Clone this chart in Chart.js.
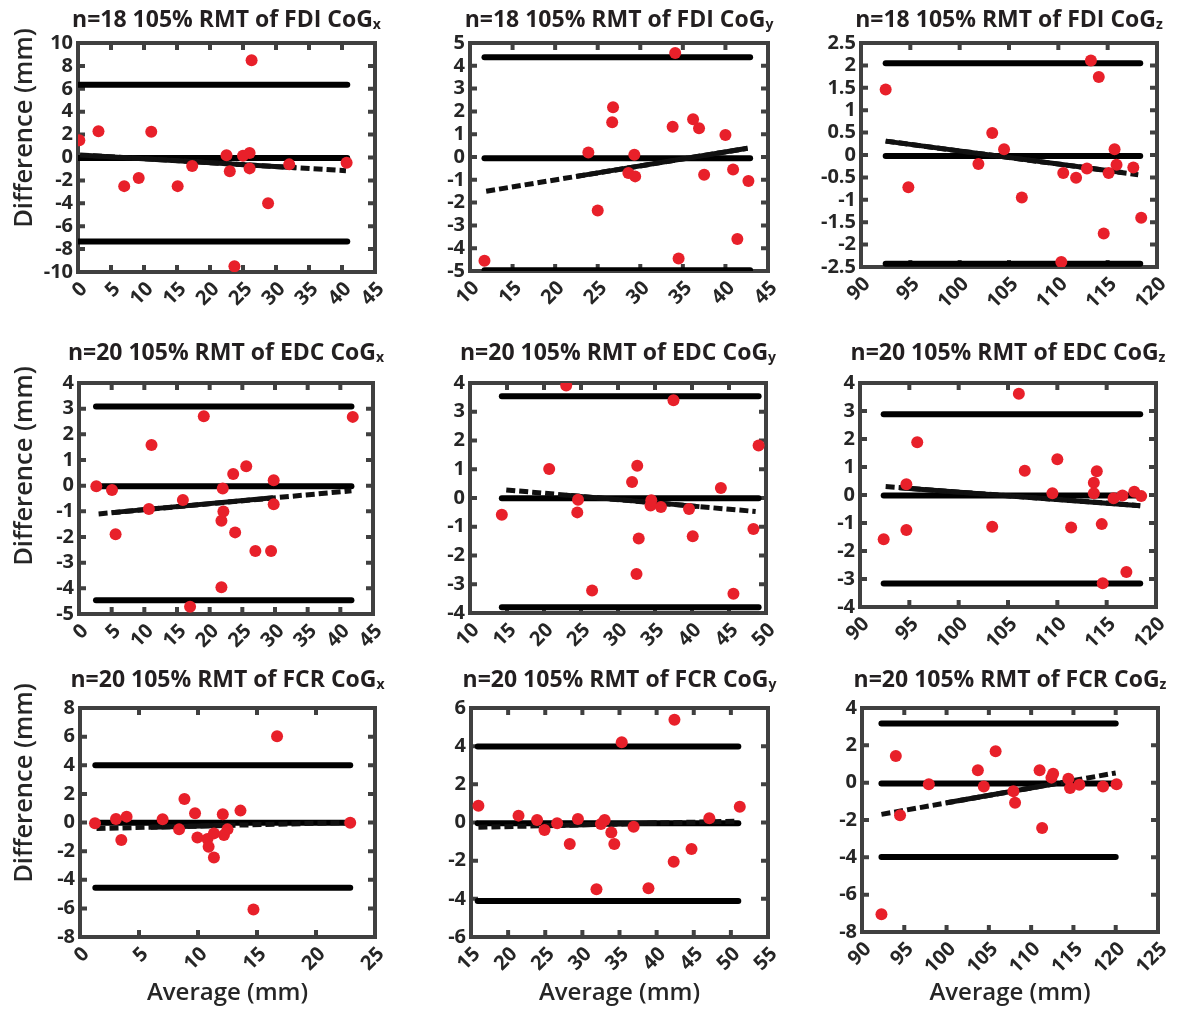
<!DOCTYPE html>
<html>
<head>
<meta charset="utf-8">
<script src="https://cdn.jsdelivr.net/npm/chart.js@4.4.1/dist/chart.umd.min.js"></script>
<style>
  body { margin: 0; background: #fff; }
  #wrap { position: relative; width: 1179px; height: 1010px; overflow: hidden; font-family: "Open Sans", sans-serif; }
  #wrap canvas { position: absolute; }
  .ttl { position: absolute; font-weight: 700; font-size: 23px; line-height: 26px; color: #231f20; white-space: nowrap; transform: translateX(-50%); }
  .ttl span { font-size: 14px; position: relative; top: 2px; }
</style>
</head>
<body>
<div id="wrap"></div>
<script>
// panel titles (subscript kept apart)
const titles = [
  'n=18 105% RMT of FDI CoG', 'n=18 105% RMT of FDI CoG', 'n=18 105% RMT of FDI CoG',
  'n=20 105% RMT of EDC CoG', 'n=20 105% RMT of EDC CoG', 'n=20 105% RMT of EDC CoG',
  'n=20 105% RMT of FCR CoG', 'n=20 105% RMT of FCR CoG', 'n=20 105% RMT of FCR CoG'
]
const subs = ['x', 'y', 'z', 'x', 'y', 'z', 'x', 'y', 'z']

// tick labels
const xTicks = [
  [0, 5, 10, 15, 20, 25, 30, 35, 40, 45],
  [10, 15, 20, 25, 30, 35, 40, 45],
  [90, 95, 100, 105, 110, 115, 120],
  [0, 5, 10, 15, 20, 25, 30, 35, 40, 45],
  [10, 15, 20, 25, 30, 35, 40, 45, 50],
  [90, 95, 100, 105, 110, 115, 120],
  [0, 5, 10, 15, 20, 25],
  [15, 20, 25, 30, 35, 40, 45, 50, 55],
  [90, 95, 100, 105, 110, 115, 120, 125]
]
const yTicks = [
  [-10, -8, -6, -4, -2, 0, 2, 4, 6, 8, 10],
  [-5, -4, -3, -2, -1, 0, 1, 2, 3, 4, 5],
  [-2.5, -2, -1.5, -1, -0.5, 0, 0.5, 1, 1.5, 2, 2.5],
  [-5, -4, -3, -2, -1, 0, 1, 2, 3, 4],
  [-4, -3, -2, -1, 0, 1, 2, 3, 4],
  [-4, -3, -2, -1, 0, 1, 2, 3, 4],
  [-8, -6, -4, -2, 0, 2, 4, 6, 8],
  [-6, -4, -2, 0, 2, 4, 6],
  [-8, -6, -4, -2, 0, 2, 4]
]

// averages and differences (mm)
const fdiXAvg = [0.2, 3.1, 7.0, 9.2, 11.1, 15.1, 17.3, 22.5, 23.0, 23.7, 25.0, 26.0, 26.0, 26.3, 28.8, 32.0, 40.7]
const fdiXDiff = [1.5, 2.3, -2.5, -1.8, 2.25, -2.5, -0.75, 0.2, -1.2, -9.5, 0.15, 0.4, -0.95, 8.5, -4.0, -0.6, -0.45]
const fdiYAvg = [11.7, 23.9, 25.0, 26.7, 26.8, 28.6, 29.3, 29.4, 33.8, 34.1, 34.5, 36.2, 36.9, 37.5, 40.0, 40.9, 41.4, 42.7]
const fdiYDiff = [-4.55, 0.2, -2.35, 1.52, 2.18, -0.7, 0.1, -0.85, 1.33, 4.56, -4.45, 1.66, 1.26, -0.78, 0.97, -0.55, -3.6, -1.05]
const fdiZAvg = [92.5, 94.8, 101.9, 103.3, 104.5, 106.3, 110.3, 110.5, 111.8, 112.9, 113.3, 114.1, 114.6, 115.1, 115.7, 115.9, 117.6, 118.4]
const fdiZDiff = [1.46, -0.72, -0.2, 0.49, 0.13, -0.95, -2.39, -0.4, -0.51, -0.3, 2.11, 1.74, -1.75, -0.4, 0.13, -0.22, -0.28, -1.4]
const edcXAvg = [2.65, 5.05, 5.6, 10.7, 11.1, 15.9, 17.0, 19.1, 22.0, 21.8, 22.1, 21.8, 23.6, 23.9, 25.6, 27.0, 29.4, 29.8, 29.8, 41.9]
const edcXDiff = [-0.02, -0.17, -1.89, -0.91, 1.58, -0.56, -4.72, 2.7, -0.11, -1.37, -1.01, -3.96, 0.45, -1.82, 0.76, -2.55, -2.55, 0.21, -0.72, 2.68]
const edcYAvg = [14.3, 20.7, 23.0, 24.5, 24.6, 26.5, 31.9, 32.6, 32.5, 32.8, 34.4, 34.5, 35.8, 37.5, 39.6, 40.1, 43.9, 45.6, 48.3, 49.0]
const edcYDiff = [-0.58, 1.01, 3.91, -0.5, -0.06, -3.22, 0.56, 1.12, -2.64, -1.41, -0.26, -0.08, -0.31, 3.4, -0.38, -1.33, 0.35, -3.33, -1.08, 1.83]
const edcZAvg = [92.4, 94.7, 94.7, 95.8, 103.4, 106.1, 106.7, 109.5, 110.0, 111.4, 113.7, 113.7, 114.0, 114.5, 114.6, 115.7, 116.6, 117.0, 117.8, 118.5]
const edcZDiff = [-1.58, 0.38, -1.25, 1.88, -1.13, 3.62, 0.87, 0.06, 1.28, -1.16, 0.44, 0.06, 0.85, -1.04, -3.15, -0.12, -0.02, -2.75, 0.12, -0.04]
const fcrXAvg = [1.27, 3.05, 3.5, 3.95, 7.0, 8.4, 8.85, 9.75, 9.95, 10.8, 10.9, 11.35, 11.35, 12.1, 12.2, 12.5, 13.6, 14.7, 16.7, 22.9]
const fcrXDiff = [-0.06, 0.25, -1.23, 0.41, 0.22, -0.48, 1.65, 0.64, -1.04, -1.16, -1.69, -0.76, -2.44, 0.57, -0.88, -0.48, 0.83, -6.08, 6.02, -0.01]
const fcrYAvg = [16.0, 21.4, 23.9, 24.9, 26.6, 28.3, 29.4, 31.9, 32.5, 33.0, 33.9, 34.3, 35.3, 36.9, 38.9, 42.3, 42.4, 44.7, 47.1, 51.2]
const fcrYDiff = [0.88, 0.36, 0.13, -0.39, -0.04, -1.13, 0.18, -3.5, -0.08, 0.13, -0.52, -1.13, 4.21, -0.22, -3.44, -2.06, 5.39, -1.39, 0.22, 0.83]
const fcrZAvg = [92.3, 94.0, 94.5, 97.9, 103.7, 104.4, 105.8, 107.9, 108.1, 111.0, 111.3, 112.4, 112.6, 114.4, 114.6, 115.7, 118.5, 120.1]
const fcrZDiff = [-7.05, 1.43, -1.75, -0.09, 0.66, -0.2, 1.68, -0.46, -1.07, 0.66, -2.43, 0.27, 0.48, 0.21, -0.29, -0.11, -0.2, -0.09]

// limits of agreement and mean difference
const loaUpper = [6.35, 4.38, 2.05, 3.08, 3.54, 2.88, 4.0, 3.98, 3.17]
const loaMean = [-0.05, -0.05, -0.02, -0.02, -0.01, -0.02, -0.02, -0.04, -0.05]
const loaLower = [-7.33, -4.97, -2.43, -4.46, -3.8, -3.16, -4.56, -4.11, -3.98]
const loaFrom = [0.1, 11.7, 92.5, 2.6, 14.3, 92.4, 1.3, 15.9, 92.3]
const loaTo = [40.8, 42.9, 118.3, 41.7, 49.0, 118.4, 22.9, 51.0, 120.0]

// regression line ends [x0, y0, x1, y1]
const regDashed = [
  [0.3, 0.22, 40.6, -1.15], [11.9, -1.5, 42.6, 0.38], [92.5, 0.31, 118.1, -0.44],
  [3.0, -1.1, 41.7, -0.2], [14.9, 0.28, 48.6, -0.47], [92.6, 0.3, 118.4, -0.38],
  [1.4, -0.42, 22.9, 0.0], [16, -0.25, 50.9, 0.07], [92.3, -1.7, 120, 0.52]
]
const regSolid = [
  [1.5, 0.18, 33, -0.9], [22.5, -0.85, 42.6, 0.38], [92.5, 0.31, 116.5, -0.39],
  [5, -1.05, 29.7, -0.47], [23, 0.1, 41, -0.3], [94, 0.26, 118.4, -0.38],
  [6, -0.33, 13, -0.19], [25, -0.17, 40, -0.03], [100, -1.08, 113, -0.04]
]

const avgs = [fdiXAvg, fdiYAvg, fdiZAvg, edcXAvg, edcYAvg, edcZAvg, fcrXAvg, fcrYAvg, fcrZAvg]
const diffs = [fdiXDiff, fdiYDiff, fdiZDiff, edcXDiff, edcYDiff, edcZDiff, fcrXDiff, fcrYDiff, fcrZDiff]

// layout: plot box [left, top, right, bottom] in page pixels
const boxes = [
  [78, 43, 375, 272], [470, 43, 768, 271], [861, 43, 1157, 267],
  [79, 383, 373, 614], [470, 383, 766, 613], [860, 383, 1156, 607],
  [80, 708, 375, 937], [471, 708, 768, 937], [862, 708, 1158, 932]
]
const colX = [0, 393, 786]
const rowY = [0, 330, 660]
const rowH = [328, 325, 350]
const titleTop = [5, 338, 665]
const yTitleMid = [128, 136, 123] // centre of "Difference (mm)" inside each row canvas

const RED = '#e8202a'
const TXT = '#262626'
const FRAME = '#404040'
const FONT = '"Open Sans", sans-serif'

// box with inward ticks on all four sides
const framePlugin = {
  id: 'frame',
  beforeDatasetsDraw (chart) {
    const { ctx, chartArea: a, scales } = chart
    ctx.save()
    ctx.strokeStyle = FRAME
    ctx.lineWidth = 4
    ctx.strokeRect(a.left, a.top, a.right - a.left, a.bottom - a.top)
    ctx.beginPath()
    scales.x.ticks.forEach(t => {
      const px = scales.x.getPixelForValue(t.value)
      ctx.moveTo(px, a.top); ctx.lineTo(px, a.top + 7)
      ctx.moveTo(px, a.bottom); ctx.lineTo(px, a.bottom - 7)
    })
    scales.y.ticks.forEach(t => {
      const py = scales.y.getPixelForValue(t.value)
      ctx.moveTo(a.left, py); ctx.lineTo(a.left + 7, py)
      ctx.moveTo(a.right, py); ctx.lineTo(a.right - 7, py)
    })
    ctx.stroke()
    ctx.restore()
  }
}

// slanted x tick labels and the left axis title
const labelPlugin = {
  id: 'labels',
  afterDraw (chart, args, opts) {
    const { ctx, chartArea: a, scales } = chart
    ctx.save()
    ctx.fillStyle = TXT
    ctx.font = '700 20px ' + FONT
    ctx.textAlign = 'right'
    ctx.textBaseline = 'middle'
    scales.x.ticks.forEach(t => {
      const px = scales.x.getPixelForValue(t.value)
      ctx.save()
      ctx.translate(px + 6, a.bottom + 14)
      ctx.rotate(-Math.PI / 4)
      ctx.fillText(String(t.value), 0, 0)
      ctx.restore()
    })
    if (opts.yTitle) {
      ctx.font = '600 25.5px ' + FONT
      ctx.textAlign = 'center'
      ctx.translate(25, opts.yMid)
      ctx.rotate(-Math.PI / 2)
      ctx.fillText(opts.yTitle, 0, 0)
    }
    ctx.restore()
  }
}

function hline (i, y) {
  return {
    type: 'line', showLine: true, order: 2,
    data: [{ x: loaFrom[i], y: y }, { x: loaTo[i], y: y }],
    borderColor: '#000', borderWidth: 6, borderCapStyle: 'round', pointRadius: 0
  }
}

function segment (s, dashed) {
  return {
    type: 'line', showLine: true, order: 1,
    data: [{ x: s[0], y: s[1] }, { x: s[2], y: s[3] }],
    borderColor: '#111', borderWidth: 5, borderDash: dashed ? [9, 4] : [],
    borderCapStyle: 'butt', pointRadius: 0
  }
}

const wrap = document.getElementById('wrap')

for (let i = 0; i < 9; i++) {
  const col = i % 3
  const row = Math.floor(i / 3)
  const x0 = colX[col]
  const y0 = rowY[row]
  const W = 393
  const H = rowH[row]
  const [l, t, r, b] = boxes[i]

  const cv = document.createElement('canvas')
  cv.width = W
  cv.height = H
  cv.style.left = x0 + 'px'
  cv.style.top = y0 + 'px'
  cv.style.width = W + 'px'
  cv.style.height = H + 'px'
  wrap.appendChild(cv)

  const ttl = document.createElement('div')
  ttl.className = 'ttl'
  ttl.style.left = ((l + r) / 2) + 'px'
  ttl.style.top = titleTop[row] + 'px'
  ttl.innerHTML = titles[i] + '<span>' + subs[i] + '</span>'
  wrap.appendChild(ttl)

  const xt = xTicks[i]
  const yt = yTicks[i]
  const pts = avgs[i].map((v, k) => ({ x: v, y: diffs[i][k] }))

  new Chart(cv, {
    type: 'scatter',
    data: {
      datasets: [
        { data: pts, backgroundColor: RED, borderWidth: 0, pointRadius: 6, order: 0 },
        hline(i, loaUpper[i]),
        hline(i, loaMean[i]),
        hline(i, loaLower[i]),
        segment(regDashed[i], true),
        segment(regSolid[i], false)
      ]
    },
    options: {
      responsive: false,
      animation: false,
      events: [],
      layout: { padding: { top: t - y0, right: x0 + W - r, left: 0, bottom: 0 } },
      plugins: {
        legend: { display: false },
        tooltip: { enabled: false },
        labels: { yTitle: col === 0 ? 'Difference (mm)' : '', yMid: yTitleMid[row] }
      },
      scales: {
        x: {
          type: 'linear',
          min: xt[0],
          max: xt[xt.length - 1],
          afterBuildTicks: s => { s.ticks = xt.map(v => ({ value: v })) },
          afterFit: s => { s.height = y0 + H - b },
          grid: { display: false, drawTicks: false },
          border: { display: false },
          ticks: { display: false },
          title: {
            display: row === 2, text: 'Average (mm)', color: TXT,
            font: { family: FONT, size: 24, weight: 600 }, padding: { top: 0, bottom: 2 }
          }
        },
        y: {
          type: 'linear',
          min: yt[0],
          max: yt[yt.length - 1],
          afterBuildTicks: s => { s.ticks = yt.map(v => ({ value: v })) },
          afterFit: s => { s.width = l - x0 },
          grid: { display: false, drawTicks: false },
          border: { display: false },
          ticks: {
            autoSkip: false, padding: 5, color: TXT,
            font: { family: FONT, size: 20, weight: 700 },
            callback: v => String(v)
          }
        }
      }
    },
    plugins: [framePlugin, labelPlugin]
  })
}
</script>
</body>
</html>
